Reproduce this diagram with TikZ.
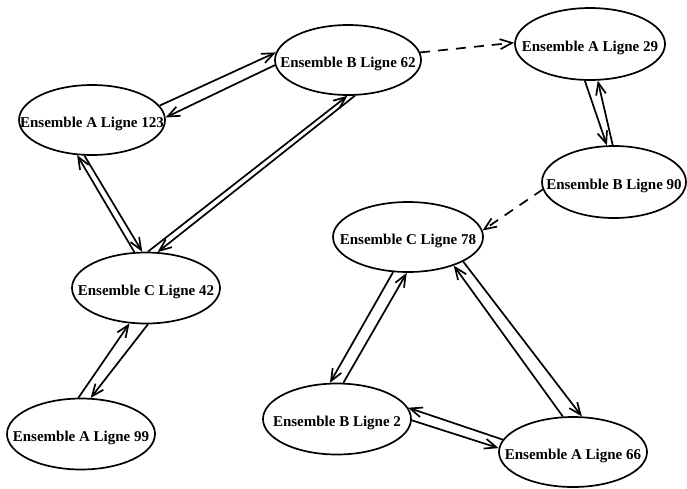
\documentclass[tikz,border=0pt]{standalone}
\usepackage{fontspec}
\setmainfont{Liberation Serif}
\usetikzlibrary{shapes.geometric,arrows.meta}
\newcommand{\lbl}[1]{\makebox[0pt]{#1}}
\begin{document}
\begin{tikzpicture}[x=1pt,y=-1pt,
  ens/.style={ellipse,draw,line width=1.7pt,inner sep=0pt,minimum width=148pt,minimum height=71pt,
    text height=14pt,text depth=0pt,
    font=\fontsize{15}{15}\selectfont\bfseries},
  link/.style={line width=1.7pt,-{Straight Barb[length=12pt,width=10pt]}},
  dlink/.style={link,dash pattern=on 10pt off 8pt}]
\useasboundingbox[fill=white] (0,0) rectangle (687,488);

\node[ens,minimum width=146pt,minimum height=70pt] (a123) at (92,120) {\lbl{Ensemble A Ligne 123}};
\node[ens,minimum width=146pt,minimum height=70pt] (b62) at (348,60) {\lbl{Ensemble B Ligne 62}};
\node[ens,minimum width=150pt,minimum height=72pt] (a29) at (590,44) {\lbl{Ensemble A Ligne 29}};
\node[ens,minimum width=144pt,minimum height=72pt] (b90) at (614,182) {\lbl{Ensemble B Ligne 90}};
\node[ens,minimum width=150pt,minimum height=70pt] (c78) at (408,237) {\lbl{Ensemble C Ligne 78}};
\node[ens] (c42) at (146,288) {\lbl{Ensemble C Ligne 42}};
\node[ens] (a99) at (81,434) {\lbl{Ensemble A Ligne 99}};
\node[ens] (b2) at (337,419) {\lbl{Ensemble B Ligne 2}};
\node[ens,minimum height=70pt] (a66) at (573,452) {\lbl{Ensemble A Ligne 66}};

\draw[link] (a123.12) -- (b62.174);
\draw[link] (b62.184) -- (a123.2);
\draw[link] (c42.108) -- (a123.247);
\draw[link] (a123.258) -- (c42.96);
\draw[link] (c42.87) -- (b62.269);
\draw[link] (b62.281) -- (c42.72);
\draw[link] (a99.94) -- (c42.245);
\draw[link] (c42.273) -- (a99.75);
\draw[dlink] (b62.6) -- (a29.179);
\draw[link] (a29.262) -- (b90.101);
\draw[link] (b90.92) -- (a29.282);
\draw[dlink] (b90.186) -- (c78.5);
\draw[link] (c78.247) -- (b2.101);
\draw[link] (b2.80) -- (c78.268);
\draw[link] (a66.106) -- (c78.328);
\draw[link] (c78.336) -- (a66.76);
\draw[link] (a66.170) -- (b2.9);
\draw[link] (b2.359) -- (a66.177);
\end{tikzpicture}
\end{document}
